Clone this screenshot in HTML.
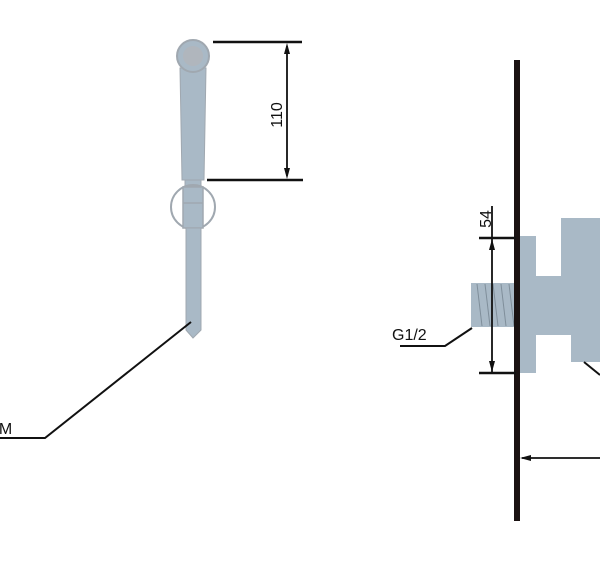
<!DOCTYPE html>
<html><head><meta charset="utf-8"><style>html,body{margin:0;padding:0;background:#fff;}svg{display:block}</style></head>
<body>
<svg width="600" height="582" viewBox="0 0 600 582" xmlns="http://www.w3.org/2000/svg" font-family="Liberation Sans, sans-serif">
<path d="M180,68 L206,68 L204,180 L182,180 Z" fill="#a9b9c6" stroke="#a0a8b0" stroke-width="1"/>
<circle cx="193" cy="56" r="16" fill="#a9b9c6" stroke="#a0a8b0" stroke-width="2"/>
<circle cx="193" cy="56" r="10" fill="#b0b6bd"/>
<rect x="185" y="180" width="16" height="6" fill="#a9b9c6" stroke="#a0a8b0"/>
<circle cx="193" cy="207" r="22" fill="none" stroke="#a0a8b0" stroke-width="2"/>
<rect x="183" y="187" width="20" height="41" fill="#a9b9c6" stroke="#a0a8b0" stroke-width="1.5"/>
<line x1="183" y1="203" x2="203" y2="203" stroke="#a0a8b0" stroke-width="1.5"/>
<path d="M186,228 L201,228 L201,330 L193,338 L186,330 Z" fill="#a9b9c6" stroke="#a0a8b0" stroke-width="1"/>
<g stroke="#111" stroke-width="2.5">
<line x1="213" y1="42" x2="302" y2="42"/>
<line x1="207" y1="180" x2="303" y2="180"/>
</g>
<line x1="287" y1="46" x2="287" y2="176" stroke="#111" stroke-width="1.8"/>
<path d="M287,43 L284,54 L290,54 Z M287,179 L284,168 L290,168 Z" fill="#111"/>
<text x="0" y="0" font-size="16" transform="translate(282,115) rotate(-90)" text-anchor="middle" fill="#111">110</text>
<polyline points="191,322 45,438 0,438" fill="none" stroke="#111" stroke-width="2"/>
<text x="-10" y="434" font-size="16" fill="#111">3M</text>
<rect x="519" y="236" width="17" height="137" fill="#a9b9c6"/>
<rect x="536" y="276" width="64" height="59" fill="#a9b9c6"/>
<rect x="561" y="218" width="39" height="58" fill="#a9b9c6"/>
<rect x="571" y="335" width="29" height="27" fill="#a9b9c6"/>
<line x1="584" y1="362" x2="600" y2="375" stroke="#111" stroke-width="2"/>
<rect x="471" y="283" width="45" height="44" fill="#a9b9c6"/>
<g stroke="#7f8e9a" stroke-width="1">
<line x1="477" y1="284" x2="482" y2="326"/><line x1="485" y1="284" x2="490" y2="326"/>
<line x1="493" y1="284" x2="498" y2="326"/><line x1="501" y1="284" x2="506" y2="326"/>
<line x1="509" y1="284" x2="514" y2="326"/>
</g>
<rect x="514" y="60" width="6" height="461" fill="#1a1212"/>
<g stroke="#111" stroke-width="2.5">
<line x1="479" y1="238" x2="516" y2="238"/>
<line x1="479" y1="373" x2="516" y2="373"/>
</g>
<line x1="492" y1="206" x2="492" y2="372" stroke="#111" stroke-width="1.8"/>
<path d="M492,239 L489,250 L495,250 Z M492,372 L489,361 L495,361 Z" fill="#111"/>
<text x="0" y="0" font-size="16" transform="translate(491,219) rotate(-90)" text-anchor="middle" fill="#111">54</text>
<text x="392" y="340" font-size="16" fill="#111">G1/2</text>
<polyline points="400,346 445,346 472,328" fill="none" stroke="#111" stroke-width="2"/>
<line x1="522" y1="458" x2="600" y2="458" stroke="#111" stroke-width="1.8"/>
<path d="M520,458 L531,455 L531,461 Z" fill="#111"/>
</svg>
</body></html>
